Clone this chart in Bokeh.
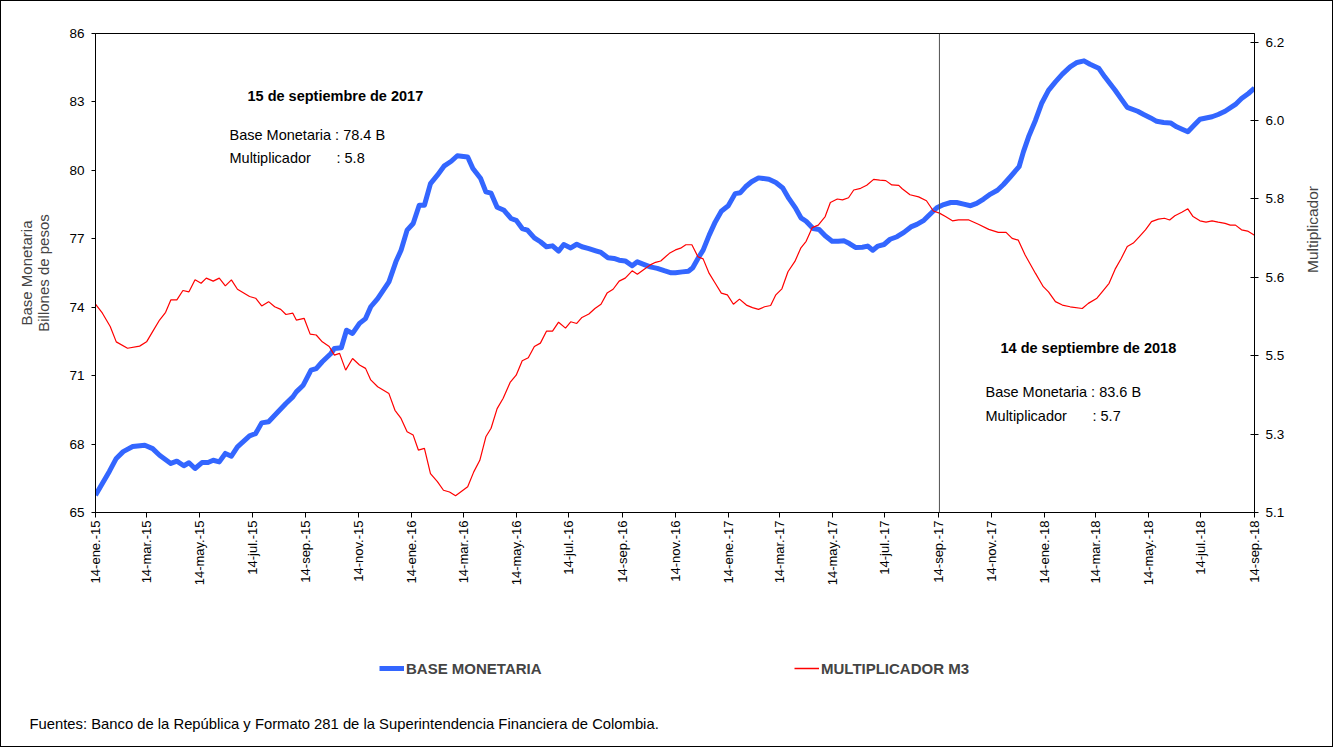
import math
import pandas as pd
from bokeh.plotting import figure
from bokeh.layouts import column
from bokeh.models import (Range1d, LinearAxis, FixedTicker, Span, Label, Title,
                          Legend, LegendItem)
from bokeh.embed import file_html
from bokeh.resources import INLINE

# ---------------- data ----------------
fecha_base = "2015-01-14"          # day 0 of the x axis
tick_fechas = ["2015-01-14", "2015-03-14", "2015-05-14", "2015-07-14", "2015-09-14",
               "2015-11-14", "2016-01-14", "2016-03-14", "2016-05-14", "2016-07-14",
               "2016-09-14", "2016-11-14", "2017-01-14", "2017-03-14", "2017-05-14",
               "2017-07-14", "2017-09-14", "2017-11-14", "2018-01-14", "2018-03-14",
               "2018-05-14", "2018-07-14", "2018-09-14"]
tick_etiquetas = ["14-ene.-15", "14-mar.-15", "14-may.-15", "14-jul.-15", "14-sep.-15",
                  "14-nov.-15", "14-ene.-16", "14-mar.-16", "14-may.-16", "14-jul.-16",
                  "14-sep.-16", "14-nov.-16", "14-ene.-17", "14-mar.-17", "14-may.-17",
                  "14-jul.-17", "14-sep.-17", "14-nov.-17", "14-ene.-18", "14-mar.-18",
                  "14-may.-18", "14-jul.-18", "14-sep.-18"]
fecha_evento = "2017-09-15"

# Base monetaria (billones de pesos): days since 14-ene-15, value
bm_dias = [0, 16, 24, 32, 43, 57, 66, 74, 87, 94, 102, 108, 115, 123, 130, 136, 143, 150,
           157, 164, 178, 185, 192, 200, 209, 220, 228, 232, 240, 249, 255, 262, 272, 276,
           284, 290, 297, 305, 312, 318, 326, 339, 347, 353, 360, 367, 374, 380, 387, 395,
           403, 411, 418, 430, 436, 445, 451, 457, 464, 472, 480, 486, 493, 499, 507, 514,
           521, 528, 535, 541, 549, 556, 562, 570, 578, 584, 592, 599, 605, 612, 620, 626,
           634, 641, 649, 657, 665, 670, 678, 685, 690, 697, 702, 709, 716, 723, 731, 739,
           745, 751, 758, 766, 778, 786, 794, 801, 809, 815, 821, 829, 836, 843, 851, 858,
           865, 871, 878, 886, 892, 898, 904, 911, 918, 926, 934, 942, 949, 957, 965, 972,
           980, 988, 995, 1003, 1011, 1018, 1026, 1034, 1042, 1049, 1057, 1067, 1072, 1078,
           1086, 1093, 1101, 1109, 1117, 1126, 1134, 1142, 1149, 1159, 1166, 1178, 1186,
           1192, 1204, 1211, 1219, 1226, 1234, 1242, 1249, 1256, 1262, 1270, 1276, 1290,
           1297, 1305, 1317, 1324, 1332, 1339]
bm_valor = [65.76, 66.8, 67.37, 67.67, 67.89, 67.95, 67.8, 67.51, 67.15, 67.25, 67.05, 67.18,
            66.93, 67.19, 67.19, 67.29, 67.22, 67.59, 67.47, 67.88, 68.36, 68.46, 68.93, 68.98,
            69.34, 69.78, 70.07, 70.29, 70.58, 71.24, 71.31, 71.61, 71.97, 72.19, 72.22, 72.99,
            72.85, 73.29, 73.5, 74.02, 74.38, 75.11, 75.99, 76.5, 77.38, 77.67, 78.47, 78.47,
            79.42, 79.79, 80.2, 80.4, 80.64, 80.59, 80.08, 79.64, 79.06, 79.0, 78.38, 78.25,
            77.89, 77.81, 77.45, 77.38, 77.04, 76.87, 76.65, 76.69, 76.46, 76.75, 76.6, 76.76,
            76.65, 76.57, 76.47, 76.4, 76.17, 76.14, 76.06, 76.03, 75.82, 75.99, 75.87, 75.77,
            75.7, 75.6, 75.51, 75.51, 75.55, 75.58, 75.73, 76.2, 76.5, 77.16, 77.74, 78.21,
            78.45, 78.98, 79.02, 79.28, 79.5, 79.67, 79.61, 79.47, 79.23, 78.77, 78.33, 77.92,
            77.77, 77.45, 77.41, 77.13, 76.89, 76.89, 76.91, 76.79, 76.62, 76.63, 76.68, 76.5,
            76.68, 76.75, 76.98, 77.09, 77.28, 77.52, 77.63, 77.81, 78.11, 78.36, 78.5, 78.59,
            78.59, 78.52, 78.45, 78.55, 78.74, 78.96, 79.13, 79.38, 79.72, 80.16, 80.81, 81.47,
            82.2, 82.93, 83.51, 83.88, 84.22, 84.54, 84.73, 84.8, 84.65, 84.48, 84.1, 83.51,
            83.08, 82.76, 82.59, 82.45, 82.3, 82.15, 82.1, 82.08, 81.91, 81.79, 81.69, 82.01,
            82.24, 82.35, 82.45, 82.59, 82.89, 83.15, 83.37, 83.6]

# Multiplicador M3: days since 14-ene-15, value
mu_dias = [0, 8, 17, 24, 37, 51, 59, 66, 74, 81, 87, 94, 101, 108, 115, 122, 128, 136, 143,
           150, 157, 164, 178, 185, 192, 200, 207, 214, 220, 228, 232, 241, 248, 255, 262, 270,
           276, 282, 289, 297, 305, 312, 318, 326, 339, 346, 353, 360, 367, 373, 380, 387, 395,
           402, 409, 416, 430, 437, 444, 451, 457, 464, 471, 479, 486, 493, 500, 507, 514, 521,
           528, 535, 543, 549, 556, 562, 570, 577, 584, 591, 598, 605, 612, 620, 626, 634, 641,
           647, 653, 663, 670, 676, 682, 689, 696, 702, 709, 716, 723, 730, 737, 744, 752, 759,
           766, 773, 780, 786, 793, 800, 808, 815, 821, 828, 835, 843, 849, 857, 863, 870, 876,
           884, 891, 899, 906, 913, 920, 928, 932, 941, 951, 960, 968, 975, 982, 990, 997, 1009,
           1020, 1032, 1043, 1052, 1059, 1066, 1074, 1086, 1095, 1101, 1109, 1117, 1126, 1140,
           1147, 1157, 1163, 1171, 1178, 1185, 1192, 1199, 1206, 1213, 1220, 1228, 1235, 1241,
           1247, 1255, 1262, 1268, 1276, 1283, 1290, 1297, 1305, 1311, 1317, 1324, 1331, 1339]
mu_valor = [5.587, 5.566, 5.535, 5.499, 5.484, 5.489, 5.499, 5.523, 5.55, 5.568, 5.597, 5.597,
            5.619, 5.616, 5.644, 5.636, 5.648, 5.641, 5.648, 5.63, 5.644, 5.622, 5.605, 5.601,
            5.583, 5.593, 5.581, 5.575, 5.563, 5.566, 5.55, 5.554, 5.517, 5.515, 5.499, 5.488,
            5.468, 5.472, 5.433, 5.46, 5.445, 5.437, 5.41, 5.394, 5.378, 5.339, 5.32, 5.289,
            5.281, 5.246, 5.25, 5.191, 5.172, 5.152, 5.148, 5.139, 5.16, 5.195, 5.222, 5.277,
            5.297, 5.343, 5.367, 5.404, 5.421, 5.455, 5.462, 5.488, 5.496, 5.524, 5.524, 5.545,
            5.531, 5.546, 5.542, 5.556, 5.564, 5.577, 5.587, 5.613, 5.622, 5.641, 5.648, 5.665,
            5.657, 5.669, 5.679, 5.685, 5.688, 5.706, 5.714, 5.718, 5.726, 5.726, 5.698, 5.693,
            5.659, 5.636, 5.613, 5.609, 5.587, 5.599, 5.585, 5.579, 5.575, 5.581, 5.584, 5.609,
            5.623, 5.663, 5.687, 5.719, 5.734, 5.766, 5.772, 5.792, 5.825, 5.833, 5.831, 5.836,
            5.854, 5.858, 5.865, 5.879, 5.877, 5.876, 5.866, 5.865, 5.857, 5.843, 5.838, 5.829,
            5.805, 5.8, 5.792, 5.782, 5.784, 5.784, 5.774, 5.762, 5.755, 5.755, 5.741, 5.737,
            5.702, 5.659, 5.628, 5.616, 5.593, 5.585, 5.581, 5.577, 5.589, 5.601, 5.616, 5.636,
            5.669, 5.694, 5.722, 5.73, 5.745, 5.761, 5.78, 5.786, 5.788, 5.784, 5.794, 5.802,
            5.81, 5.792, 5.782, 5.779, 5.782, 5.779, 5.776, 5.772, 5.772, 5.761, 5.758, 5.748]

bm_ticks = [65, 68, 71, 74, 77, 80, 83, 86]
mu_ticks = [5.1 + i * (6.2 - 5.1) / 6 for i in range(7)]
mu_tick_etiquetas = ["5.1", "5.3", "5.5", "5.6", "5.8", "6.0", "6.2"]
mu_rango = (5.1, 6.22)

fuente = "Fuentes: Banco de la República y Formato 281 de la Superintendencia  Financiera de Colombia."

# ---------------- figure ----------------
FONT = "Liberation Sans"
AZUL = "#3366FF"
ROJO = "#FF0000"

base = pd.Timestamp(fecha_base)
tick_dias = [(pd.Timestamp(d) - base).days for d in tick_fechas]
evento_dia = (pd.Timestamp(fecha_evento) - base).days

W = 1331
p = figure(width=W, height=620, output_backend="svg", toolbar_location=None,
           x_range=Range1d(0, tick_dias[-1]), y_range=Range1d(bm_ticks[0], bm_ticks[-1]),
           min_border_left=94, min_border_right=W - 1255, min_border_top=32,
           min_border_bottom=109)
p.extra_y_ranges = {"mult": Range1d(*mu_rango)}
p.grid.visible = False
p.outline_line_color = "black"
p.outline_line_width = 1

# x axis
xa = p.xaxis[0]
xa.ticker = FixedTicker(ticks=tick_dias)
xa.major_label_overrides = dict(zip(tick_dias, tick_etiquetas))
xa.major_label_orientation = math.pi / 2
xa.major_label_text_font = FONT
xa.major_label_text_font_size = "13px"
xa.major_label_text_color = "black"
xa.major_tick_out = 5
xa.major_tick_in = 0
xa.minor_tick_line_color = None
xa.major_label_standoff = 3
xa.axis_line_color = "black"

# left axis
ya = p.yaxis[0]
ya.ticker = FixedTicker(ticks=bm_ticks)
ya.major_label_text_font = FONT
ya.major_label_text_font_size = "13.5px"
ya.major_label_text_color = "black"
ya.major_tick_out = 4
ya.major_tick_in = 0
ya.minor_tick_line_color = None
ya.major_label_standoff = 7
ya.axis_label = "Base Monetaria\nBillones de pesos"
ya.axis_label_text_font = FONT
ya.axis_label_text_font_style = "normal"
ya.axis_label_text_font_size = "15px"
ya.axis_label_text_line_height = 1.0
ya.axis_label_standoff = 14

# right axis
ra = LinearAxis(y_range_name="mult", ticker=FixedTicker(ticks=mu_ticks),
                major_label_overrides=dict(zip(mu_ticks, mu_tick_etiquetas)),
                axis_label="Multiplicador")
ra.major_label_text_font = FONT
ra.major_label_text_font_size = "13.5px"
ra.major_label_text_color = "black"
ra.major_tick_out = 4
ra.major_tick_in = 4
ra.minor_tick_line_color = None
ra.major_label_standoff = 7
ra.axis_label_text_font = FONT
ra.axis_label_text_font_style = "normal"
ra.axis_label_text_font_size = "15.5px"
ra.axis_label_text_line_height = 1.0
ra.axis_label_standoff = 25
ra.axis_label_orientation = math.pi / 2
p.add_layout(ra, "right")

# series
r_bm = p.line(bm_dias, bm_valor, line_color=AZUL, line_width=5, line_join="round")
r_mu = p.line(mu_dias, mu_valor, line_color=ROJO, line_width=1.2, y_range_name="mult")

p.add_layout(Span(location=evento_dia, dimension="height", line_color="#505050", line_width=1))

def texto(fig, x, y, t, bold=False, size="14.5px"):
    fig.add_layout(Label(x=x, y=y, x_units="screen", y_units="screen", text=t,
                         text_font=FONT, text_font_size=size,
                         text_font_style="bold" if bold else "normal",
                         text_baseline="middle", text_color="black"))

texto(p, 152, 417, "15 de septiembre de 2017", bold=True)
texto(p, 134, 378, "Base Monetaria : 78.4 B")
texto(p, 134, 355, "Multiplicador")
texto(p, 241, 355, ":  5.8")

texto(p, 905, 165, "14 de septiembre de 2018", bold=True)
texto(p, 890, 121, "Base Monetaria : 83.6 B")
texto(p, 890, 97, "Multiplicador")
texto(p, 997, 97, ": 5.7")

# ---------------- legend + source strip ----------------
H2 = 125
q = figure(width=W, height=H2, output_backend="svg", toolbar_location=None,
           x_range=Range1d(0, 1), y_range=Range1d(0, 1), min_border=0,
           x_axis_location=None, y_axis_location=None)
q.grid.visible = False
q.outline_line_color = None
# legend-only renderers for the two series (hidden here; the series are drawn above)
q_bm = q.line(bm_dias, bm_valor, line_color=AZUL, line_width=5, visible=False)
q_mu = q.line(mu_dias, mu_valor, line_color=ROJO, line_width=1.5, visible=False)

for item, r, loc in [("BASE MONETARIA", q_bm, (284, 22)), ("MULTIPLICADOR M3", q_mu, (699, 22))]:
    lg = Legend(items=[LegendItem(label=item, renderers=[r])], location=loc,
                orientation="horizontal", padding=0, margin=0, border_line_alpha=0,
                background_fill_alpha=0, label_text_font=FONT, label_text_font_style="bold",
                label_text_font_size="15px", glyph_width=25, glyph_height=20,
                label_height=20, label_standoff=2, click_policy="none")
    q.add_layout(lg)

q.add_layout(Title(text=fuente, align="left", offset=-66, vertical_align="middle",
                   standoff=28, text_font=FONT, text_font_size="14.8px",
                   text_font_style="normal", text_color="black"), "below")

layout = column(p, q, spacing=0, styles={"border": "1px solid #000000"})
open("out.html", "w").write(file_html(layout, INLINE))
